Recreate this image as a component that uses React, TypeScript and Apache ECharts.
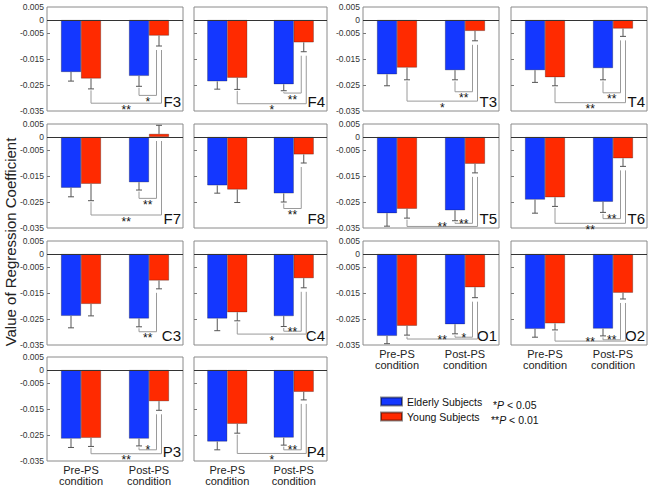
import React, { useEffect, useRef } from 'react';
import * as echarts from 'echarts';

const panelNames = ['F3', 'F4', 'T3', 'T4', 'F7', 'F8', 'T5', 'T6', 'C3', 'C4', 'O1', 'O2', 'P3', 'P4'];
const conditions = ['Pre-PS\ncondition', 'Post-PS\ncondition'];

const elderlyPre = [-0.020, -0.0236, -0.0209, -0.0193, -0.0195, -0.0186, -0.0293, -0.0241, -0.0238, -0.0248, -0.0315, -0.0288, -0.0264, -0.0275];
const elderlyPreErr = [0.0035, 0.003, 0.0044, 0.0047, 0.0035, 0.003, 0.005, 0.0052, 0.0046, 0.0047, 0.003, 0.0032, 0.0034, 0.0032];
const youngPre = [-0.0225, -0.0222, -0.0183, -0.022, -0.018, -0.0202, -0.0276, -0.0232, -0.0192, -0.0224, -0.0276, -0.0267, -0.0261, -0.0207];
const youngPreErr = [0.004, 0.0045, 0.0047, 0.0033, 0.0065, 0.005, 0.0036, 0.0035, 0.0046, 0.0033, 0.0036, 0.0025, 0.0033, 0.0036];
const elderlyPost = [-0.0215, -0.0247, -0.0193, -0.0185, -0.0174, -0.0217, -0.0282, -0.0249, -0.0248, -0.0239, -0.027, -0.0287, -0.0264, -0.026];
const elderlyPostErr = [0.004, 0.0025, 0.0037, 0.0045, 0.003, 0.0033, 0.004, 0.0041, 0.0032, 0.004, 0.0037, 0.0028, 0.0028, 0.0029];
const youngPost = [-0.006, -0.0086, -0.0042, -0.0033, 0.0012, -0.0067, -0.0103, -0.0082, -0.0102, -0.0093, -0.0128, -0.0149, -0.012, -0.0084];
const youngPostErr = [0.004, 0.0036, 0.0038, 0.003, 0.0033, 0.0033, 0.0035, 0.0031, 0.0032, 0.0037, 0.004, 0.0024, 0.0035, 0.0031];

// Post-PS elderly vs young bracket
const innerLabels = ['*', '**', '**', '**', '**', '**', '**', '**', '**', '**', '*', '**', '*', '**'];
const innerLevels = [-0.029, -0.0281, -0.0276, -0.028, -0.0236, -0.0275, -0.0332, -0.0314, -0.0299, -0.0297, -0.032, -0.033, -0.0307, -0.0307];
const innerAbove = [0, 0, 0, 0, 0, 0, 1, 1, 0, 1, 1, 1, 1, 1];
// Young pre vs post bracket
const outerLabels = ['**', '*', '*', '**', '**', '', '**', '**', '', '*', '**', '**', '**', '*'];
const outerLevels = [-0.032, -0.0322, -0.0312, -0.0318, -0.030, null, -0.0344, -0.0332, null, -0.0308, -0.0327, -0.0335, -0.0322, -0.0321];
const outerAbove = [0, 0, 0, 0, 0, 0, 1, 0, 0, 0, 1, 1, 0, 0];

const yTickLabels = [0.005, 0, -0.005, -0.015, -0.025, -0.035];
const yTicks = [-0.005, -0.015, -0.025];

const BLUE = '#1437ff';
const RED = '#ff2a00';
const FONT = 'Liberation Sans, Arial, sans-serif';
const BAR_W = 20;

export default function App() {
  const ref = useRef<HTMLDivElement>(null);
  useEffect(() => {
    if (!ref.current) return;
    const chart = echarts.init(ref.current, undefined, { renderer: 'svg' });
    const colLeft = [47, 194, 363, 511];
    const colWidth = [136, 133, 136, 136];
    const rowTop = [7, 124, 241, 357];
    const H = 104;
    const grids: any[] = [];
    const xAxes: any[] = [];
    const yAxes: any[] = [];
    const series: any[] = [];
    const graphics: any[] = [];
    const low = (v: number, e: number) => (v < 0 ? v - e : 0);

    panelNames.forEach((name, i) => {
      const row = Math.floor(i / 4);
      const col = i % 4;
      const left = colLeft[col];
      const top = rowTop[row];
      const width = colWidth[col];
      const bottomPanel = i >= 10;
      grids.push({
        left, top, width, height: H, show: true, borderColor: '#8a8a8a', borderWidth: 1,
        containLabel: false, outerBoundsMode: 'none',
      });
      xAxes.push({
        type: 'category', gridIndex: i, data: conditions,
        axisLine: { show: false }, axisTick: { show: false }, splitLine: { show: false },
        axisLabel: { show: bottomPanel, interval: 0, fontSize: 11, lineHeight: 11, color: '#222', margin: 3, fontFamily: FONT },
      });
      yAxes.push({
        type: 'value', gridIndex: i, min: -0.035, max: 0.005,
        axisLine: { show: false }, splitLine: { show: false },
        axisTick: { show: true, inside: true, length: 3, customValues: yTicks, lineStyle: { color: '#777' } },
        axisLabel: {
          show: col % 2 === 0, customValues: yTickLabels, fontSize: 8.5, color: '#333', margin: 3, fontFamily: FONT,
          formatter: (v: number) => (Math.abs(v) < 1e-9 ? '0' : Number(v).toFixed(3)),
        },
      });
      series.push({
        name: 'Elderly Subjects', type: 'bar', xAxisIndex: i, yAxisIndex: i,
        data: [elderlyPre[i], elderlyPost[i]], barWidth: BAR_W, barGap: '0%',
        itemStyle: { color: BLUE, borderColor: 'rgba(0,0,0,0.45)', borderWidth: 0.6 },
        markLine: {
          silent: true, symbol: 'none', label: { show: false },
          lineStyle: { color: '#333', width: 1, type: 'solid' },
          data: [{ yAxis: 0 }],
        },
      });
      series.push({
        name: 'Young Subjects', type: 'bar', xAxisIndex: i, yAxisIndex: i,
        data: [youngPre[i], youngPost[i]], barWidth: BAR_W, barGap: '0%',
        itemStyle: { color: RED, borderColor: 'rgba(0,0,0,0.45)', borderWidth: 0.6 },
      });
      const errData = [
        [0, 0, elderlyPre[i], elderlyPreErr[i]],
        [1, 0, elderlyPost[i], elderlyPostErr[i]],
        [0, 1, youngPre[i], youngPreErr[i]],
        [1, 1, youngPost[i], youngPostErr[i]],
      ];
      series.push({
        type: 'custom', xAxisIndex: i, yAxisIndex: i, z: 5, silent: true,
        encode: { x: 0, y: 2 },
        data: errData,
        renderItem: (params: any, api: any) => {
          const cat = api.value(0), s = api.value(1), v = api.value(2), e = api.value(3);
          const dir = v >= 0 ? 1 : -1;
          const x = api.coord([cat, 0])[0] + (s === 0 ? -BAR_W / 2 : BAR_W / 2);
          const y0 = api.coord([cat, v])[1];
          const y1 = api.coord([cat, v + dir * e])[1];
          return {
            type: 'group',
            children: [
              { type: 'line', shape: { x1: x, y1: y0, x2: x, y2: y1 }, style: { stroke: '#555', lineWidth: 1 } },
              { type: 'line', shape: { x1: x - 3, y1: y1, x2: x + 3, y2: y1 }, style: { stroke: '#555', lineWidth: 1 } },
            ],
          };
        },
      });
      const brData: number[][] = [];
      const brLabels: string[] = [];
      brData.push([1, 0, low(elderlyPost[i], elderlyPostErr[i]), 1, 1, low(youngPost[i], youngPostErr[i]), innerLevels[i], 0, innerAbove[i]]);
      brLabels.push(innerLabels[i]);
      if (outerLevels[i] !== null) {
        brData.push([0, 1, low(youngPre[i], youngPreErr[i]), 1, 1, low(youngPost[i], youngPostErr[i]), outerLevels[i] as number, 1, outerAbove[i]]);
        brLabels.push(outerLabels[i]);
      }
      series.push({
        type: 'custom', xAxisIndex: i, yAxisIndex: i, z: 4, silent: true,
        encode: { x: 0, y: 6 },
        data: brData,
        renderItem: (params: any, api: any) => {
          const c1 = api.value(0), s1 = api.value(1), l1 = api.value(2);
          const c2 = api.value(3), s2 = api.value(4), l2 = api.value(5);
          const lev = api.value(6), kind = api.value(7), above = api.value(8);
          const xa = api.coord([c1, 0])[0] + (s1 === 0 ? -BAR_W / 2 : BAR_W / 2);
          const xb = api.coord([c2, 0])[0] + (s2 === 0 ? -BAR_W / 2 : BAR_W / 2) + (kind === 0 ? -2.5 : 2.5);
          const ya = api.coord([c1, l1])[1] + 1.5;
          const yb = api.coord([c2, l2])[1] + 4;
          const yl = api.coord([c1, lev])[1];
          const label = brLabels[params.dataIndex];
          return {
            type: 'group',
            children: [
              { type: 'polyline', shape: { points: [[xa, ya], [xa, yl], [xb, yl], [xb, yb]] }, style: { stroke: '#9a9a9a', lineWidth: 1, fill: 'none' } },
              {
                type: 'text', x: (xa + xb) / 2, y: yl + (above ? 0.5 : 6.5),
                style: { text: label, fill: '#111', fontSize: 12, fontFamily: FONT, align: 'center', verticalAlign: 'middle', textAlign: 'center', textVerticalAlign: 'middle' },
              },
            ],
          };
        },
      });
      graphics.push({
        type: 'text', x: left + width - 2, y: top + H - 2,
        style: { text: name, fill: '#111', fontSize: 15, fontFamily: FONT, textAlign: 'right', textVerticalAlign: 'bottom', align: 'right', verticalAlign: 'bottom' },
      });
    });

    graphics.push({
      type: 'text', x: 10, y: 242, rotation: Math.PI / 2,
      style: { text: 'Value of Regression Coefficient', fill: '#222', fontSize: 15, fontFamily: FONT, textAlign: 'center', textVerticalAlign: 'middle', align: 'center', verticalAlign: 'middle' },
    });
    graphics.push({
      type: 'text', x: 493, y: 405,
      style: {
        text: '*{i|P} < 0.05', fill: '#111', fontSize: 10.5, fontFamily: FONT, textVerticalAlign: 'middle', verticalAlign: 'middle',
        rich: { i: { fontStyle: 'italic', fontSize: 10.5, fontFamily: FONT, fill: '#111' } },
      },
    });
    graphics.push({
      type: 'text', x: 491, y: 420,
      style: {
        text: '**{i|P} < 0.01', fill: '#111', fontSize: 10.5, fontFamily: FONT, textVerticalAlign: 'middle', verticalAlign: 'middle',
        rich: { i: { fontStyle: 'italic', fontSize: 10.5, fontFamily: FONT, fill: '#111' } },
      },
    });

    chart.setOption({
      animation: false,
      textStyle: { fontFamily: FONT },
      legend: {
        data: ['Elderly Subjects', 'Young Subjects'], orient: 'vertical', left: 380, top: 396,
        itemWidth: 21, itemHeight: 8, itemGap: 4, icon: 'rect', padding: 0,
        textStyle: { fontSize: 10.5, color: '#111', fontFamily: FONT },
      },
      grid: grids,
      xAxis: xAxes,
      yAxis: yAxes,
      series,
      graphic: graphics,
    });
    return () => chart.dispose();
  }, []);
  return <div ref={ref} style={{ width: 651, height: 486, position: 'absolute', left: 0, top: 0, background: '#fff' }} />;
}
